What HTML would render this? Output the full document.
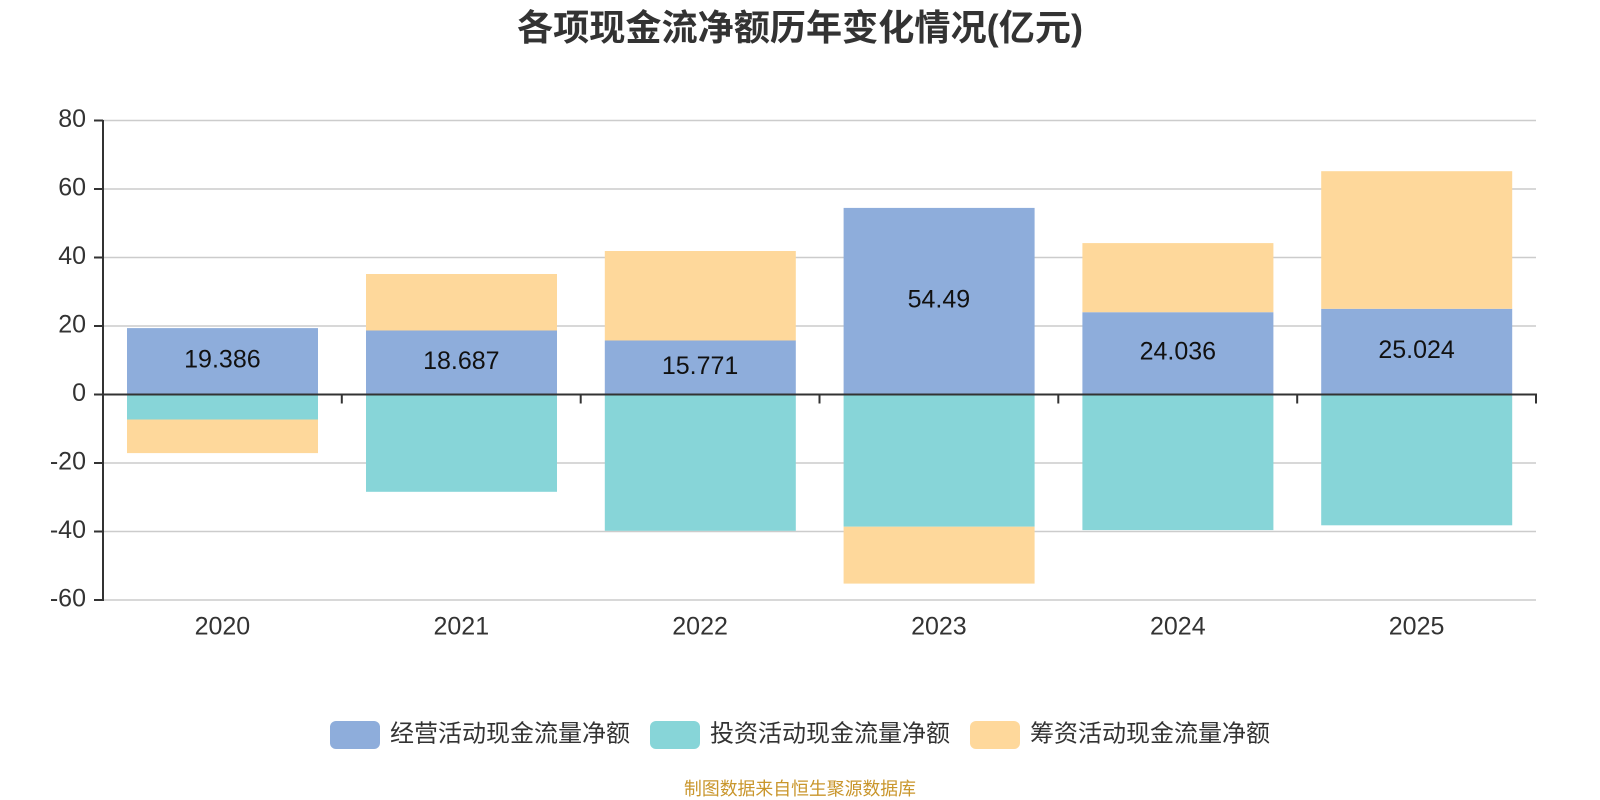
<!DOCTYPE html>
<html>
<head>
<meta charset="utf-8">
<style>
html,body{margin:0;padding:0;background:#fff;}
svg{display:block;}
text{font-family:"Liberation Sans","Noto Sans CJK SC",sans-serif;}
</style>
</head>
<body>
<svg width="1600" height="800" viewBox="0 0 1600 800" xmlns="http://www.w3.org/2000/svg">
  <!-- Title -->
  <text x="800" y="40" text-anchor="middle" font-size="36" font-weight="bold" fill="#333" textLength="566" lengthAdjust="spacingAndGlyphs">各项现金流净额历年变化情况(亿元)</text>

  <!-- grid lines -->
  <g stroke="#cccccc" stroke-width="1.4">
    <line x1="103" y1="120.5" x2="1536" y2="120.5"/>
    <line x1="103" y1="189" x2="1536" y2="189"/>
    <line x1="103" y1="257.5" x2="1536" y2="257.5"/>
    <line x1="103" y1="326" x2="1536" y2="326"/>
    <line x1="103" y1="463" x2="1536" y2="463"/>
    <line x1="103" y1="531.5" x2="1536" y2="531.5"/>
    <line x1="103" y1="600" x2="1536" y2="600"/>
  </g>

  <!-- bars: op (blue), inv (teal), fin (orange) -->
  <g>
    <!-- 2020 -->
    <rect x="127" y="328.1" width="191" height="66.4" fill="#8eaddb"/>
    <rect x="127" y="394.5" width="191" height="25" fill="#87d5d8"/>
    <rect x="127" y="419.5" width="191" height="33.6" fill="#fed89b"/>
    <!-- 2021 -->
    <rect x="366" y="330.5" width="191" height="64" fill="#8eaddb"/>
    <rect x="366" y="274" width="191" height="56.5" fill="#fed89b"/>
    <rect x="366" y="394.5" width="191" height="97.3" fill="#87d5d8"/>
    <!-- 2022 -->
    <rect x="604.8" y="340.5" width="191" height="54" fill="#8eaddb"/>
    <rect x="604.8" y="251" width="191" height="89.5" fill="#fed89b"/>
    <rect x="604.8" y="394.5" width="191" height="136.3" fill="#87d5d8"/>
    <!-- 2023 -->
    <rect x="843.6" y="207.9" width="191" height="186.6" fill="#8eaddb"/>
    <rect x="843.6" y="394.5" width="191" height="132.2" fill="#87d5d8"/>
    <rect x="843.6" y="526.7" width="191" height="56.9" fill="#fed89b"/>
    <!-- 2024 -->
    <rect x="1082.4" y="312.2" width="191" height="82.3" fill="#8eaddb"/>
    <rect x="1082.4" y="243.1" width="191" height="69.1" fill="#fed89b"/>
    <rect x="1082.4" y="394.5" width="191" height="135.6" fill="#87d5d8"/>
    <!-- 2025 -->
    <rect x="1321.2" y="308.8" width="191" height="85.7" fill="#8eaddb"/>
    <rect x="1321.2" y="171.2" width="191" height="137.6" fill="#fed89b"/>
    <rect x="1321.2" y="394.5" width="191" height="130.8" fill="#87d5d8"/>
  </g>

  <!-- axes -->
  <g stroke="#333" stroke-width="2" fill="none">
    <line x1="103" y1="120" x2="103" y2="601"/>
    <line x1="102" y1="394.5" x2="1537" y2="394.5"/>
    <!-- y ticks -->
    <line x1="94" y1="120.5" x2="103" y2="120.5"/>
    <line x1="94" y1="189" x2="103" y2="189"/>
    <line x1="94" y1="257.5" x2="103" y2="257.5"/>
    <line x1="94" y1="326" x2="103" y2="326"/>
    <line x1="94" y1="394.5" x2="103" y2="394.5"/>
    <line x1="94" y1="463" x2="103" y2="463"/>
    <line x1="94" y1="531.5" x2="103" y2="531.5"/>
    <line x1="94" y1="600" x2="103" y2="600"/>
    <!-- x ticks -->
    <line x1="341.8" y1="394.5" x2="341.8" y2="403.5"/>
    <line x1="580.7" y1="394.5" x2="580.7" y2="403.5"/>
    <line x1="819.5" y1="394.5" x2="819.5" y2="403.5"/>
    <line x1="1058.3" y1="394.5" x2="1058.3" y2="403.5"/>
    <line x1="1297.2" y1="394.5" x2="1297.2" y2="403.5"/>
    <line x1="1536" y1="394.5" x2="1536" y2="403.5"/>
  </g>

  <!-- y labels -->
  <g font-size="25" fill="#333" text-anchor="end">
    <text x="86" y="126.8">80</text>
    <text x="86" y="195.3">60</text>
    <text x="86" y="263.8">40</text>
    <text x="86" y="332.3">20</text>
    <text x="86" y="400.8">0</text>
    <text x="86" y="469.3">-20</text>
    <text x="86" y="537.8">-40</text>
    <text x="86" y="606.3">-60</text>
  </g>

  <!-- x labels -->
  <g font-size="25" fill="#333" text-anchor="middle">
    <text x="222.4" y="634.3">2020</text>
    <text x="461.3" y="634.3">2021</text>
    <text x="700.1" y="634.3">2022</text>
    <text x="938.9" y="634.3">2023</text>
    <text x="1177.8" y="634.3">2024</text>
    <text x="1416.6" y="634.3">2025</text>
  </g>

  <!-- value labels -->
  <g font-size="25" fill="#111" text-anchor="middle">
    <text x="222.4" y="367.6">19.386</text>
    <text x="461.3" y="368.8">18.687</text>
    <text x="700.1" y="373.8">15.771</text>
    <text x="938.9" y="307.5">54.49</text>
    <text x="1177.8" y="359.7">24.036</text>
    <text x="1416.6" y="358">25.024</text>
  </g>

  <!-- legend -->
  <g>
    <rect x="330" y="721" width="50" height="28" rx="6" fill="#8eaddb"/>
    <text x="390" y="741.5" font-size="24" fill="#333" textLength="240" lengthAdjust="spacingAndGlyphs">经营活动现金流量净额</text>
    <rect x="650" y="721" width="50" height="28" rx="6" fill="#87d5d8"/>
    <text x="710" y="741.5" font-size="24" fill="#333" textLength="240" lengthAdjust="spacingAndGlyphs">投资活动现金流量净额</text>
    <rect x="970" y="721" width="50" height="28" rx="6" fill="#fed89b"/>
    <text x="1030" y="741.5" font-size="24" fill="#333" textLength="240" lengthAdjust="spacingAndGlyphs">筹资活动现金流量净额</text>
  </g>

  <!-- source -->
  <text x="800" y="795" text-anchor="middle" font-size="18" fill="#c9962c" textLength="232" lengthAdjust="spacingAndGlyphs">制图数据来自恒生聚源数据库</text>
</svg>
</body>
</html>
